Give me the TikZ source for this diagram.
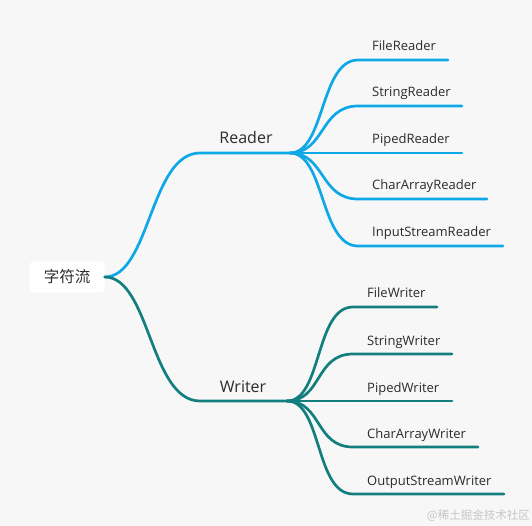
\documentclass[tikz,border=0pt]{standalone}
\usepackage{fontspec}
\setmainfont{Open Sans}
\newfontfamily\cjk{Noto Sans CJK SC}
\definecolor{bgc}{HTML}{F7F7F7}
\definecolor{rdc}{HTML}{0FA8E6}
\definecolor{wrc}{HTML}{137E7E}
\definecolor{txc}{HTML}{2B2B2B}
\begin{document}
\begin{tikzpicture}[x=1pt,y=-1pt,
  branch/.style={line width=2.7pt,line cap=round},
  leaf/.style={anchor=base west,font=\fontsize{13}{15}\selectfont,text=txc,inner sep=0pt},
  mid/.style={anchor=base,font=\fontsize{16}{18}\selectfont,text=txc,inner sep=0pt}]
\fill[bgc] (0,0) rectangle (532,526);
\useasboundingbox (0,0) rectangle (532,526);
\node[fill=white,rounded corners=4pt,minimum width=75pt,minimum height=31pt,font=\cjk\fontsize{15.5}{17}\selectfont,text=txc] (root) at (67,277) {字符流};
% hubs
\coordinate (rs) at (200,153);
\coordinate (rh) at (290,153);
\coordinate (ws) at (200,401);
\coordinate (wh) at (287,401);
\node[mid] (reader) at (246,144) {Reader};
\node[mid] (writer) at (243,392) {Writer};
\draw[branch,rdc] (root.east) .. controls (150,277) and (150,153) .. (rs) -- (rh);
\draw[branch,wrc] (root.east) .. controls (150,277) and (150,401) .. (ws) -- (wh);
% reader children
\foreach \n/\y/\e/\t in {fr/60/448/FileReader, sr/106/462/StringReader, pr/153/462/PipedReader, cr/199/487/CharArrayReader, ir/246/503/InputStreamReader}{
  \coordinate (\n s) at (358,\y);
  \coordinate (\n e) at (\e,\y);
  \draw[branch,rdc] (rh) .. controls (325,153) and (320,\y) .. (\n s) -- (\n e);
  \node[leaf] (\n) at (372,\y-9) {\t};
}
% writer children
\foreach \n/\y/\e/\t in {fw/307/437/FileWriter, sw/354/452/StringWriter, pw/401/452/PipedWriter, cw/447/478/CharArrayWriter, ow/494/504/OutputStreamWriter}{
  \coordinate (\n s) at (353,\y);
  \coordinate (\n e) at (\e,\y);
  \draw[branch,wrc] (wh) .. controls (322,401) and (315,\y) .. (\n s) -- (\n e);
  \node[leaf] (\n) at (367,\y-9) {\t};
}
\node[anchor=base east,inner sep=0pt,text=gray!45,font=\cjk\fontsize{11.5}{12}\selectfont] (wm) at (530,519) {@稀土掘金技术社区};
\end{tikzpicture}
\end{document}
